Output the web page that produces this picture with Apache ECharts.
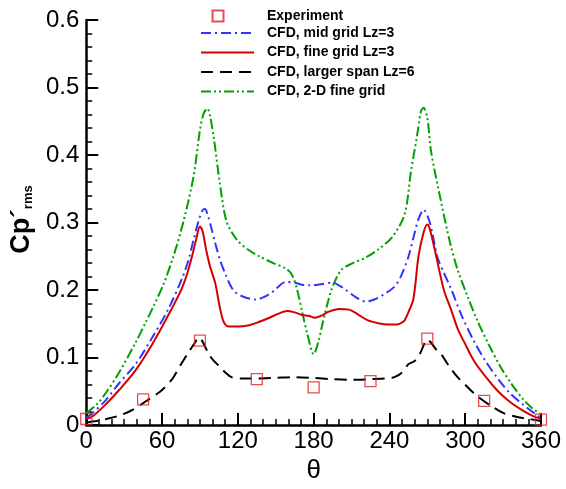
<!DOCTYPE html>
<html><head><meta charset="utf-8">
<script src="https://cdn.jsdelivr.net/npm/echarts@6/dist/echarts.min.js"></script>
<style>html,body{margin:0;padding:0;background:#fff}#c{width:566px;height:489px}</style>
</head><body><div id="c"></div>
<script>
const xTicks = [0, 60, 120, 180, 240, 300, 360];
const yTicks = [0, 0.1, 0.2, 0.3, 0.4, 0.5, 0.6];

const thetaExp = [0, 45, 90, 135, 180, 225, 270, 315, 360];
const experiment = [0.009, 0.038, 0.125, 0.068, 0.056, 0.065, 0.128, 0.036, 0.008];

const thetaMid = [0,5,15,26,39,52,65,76,81,85,89,92,94,96,99,102,106,111,116,122,134,141,148,158,165,171,177,187,195,200,205,213,221,228,236,244,249,255,260,263,267,272,278,283,289,297,307,316,325,335,346,353,360];
const midGrid = [0.011,0.018,0.036,0.062,0.090,0.129,0.172,0.218,0.245,0.275,0.303,0.318,0.320,0.312,0.292,0.270,0.244,0.220,0.201,0.192,0.186,0.190,0.198,0.212,0.211,0.208,0.207,0.209,0.211,0.207,0.201,0.190,0.183,0.186,0.194,0.205,0.220,0.249,0.285,0.305,0.319,0.300,0.249,0.226,0.201,0.163,0.124,0.095,0.071,0.048,0.030,0.020,0.011];

const thetaFine = [0,5,15,26,39,52,65,72,76,80,84,87,90,92,95,98,102,106,109,113,120,129,137,145,152,159,165,171,176,181,186,192,200,208,215,223,231,239,246,250,252,255,259,263,267,270,272,276,283,289,294,300,307,316,325,335,346,353,360];
const fineGrid = [0.009,0.013,0.030,0.052,0.081,0.119,0.163,0.188,0.204,0.225,0.252,0.275,0.294,0.288,0.259,0.235,0.211,0.172,0.152,0.146,0.146,0.148,0.153,0.159,0.165,0.169,0.167,0.163,0.162,0.159,0.162,0.168,0.172,0.171,0.164,0.155,0.151,0.149,0.149,0.152,0.155,0.167,0.187,0.250,0.285,0.297,0.290,0.259,0.201,0.170,0.143,0.120,0.095,0.072,0.052,0.035,0.021,0.014,0.009];

const thetaSpan = [0,8,16,26,36,47,55,60,68,75,81,86,89,92,97,101,105,110,115,124,135,150,165,179,195,210,225,237,244,250,255,260,264,268,270,273,277,281,287,294,302,310,320,330,341,351,360];
const largerSpan = [0.004,0.006,0.009,0.014,0.022,0.035,0.045,0.052,0.068,0.090,0.108,0.122,0.130,0.124,0.105,0.095,0.088,0.078,0.071,0.069,0.069,0.070,0.071,0.070,0.068,0.067,0.068,0.069,0.071,0.078,0.090,0.095,0.105,0.122,0.127,0.122,0.112,0.105,0.088,0.071,0.056,0.042,0.029,0.018,0.012,0.009,0.006];

const theta2D = [0,8,16,26,39,47,53,61,69,77,85,90,93,96,98,101,106,111,119,128,137,148,158,163,167,171,175,180,184,187,191,195,202,211,221,231,242,252,257,262,265,267,270,273,281,288,294,302,310,319,328,337,346,353,360];
const fine2D = [0.018,0.030,0.049,0.078,0.122,0.152,0.175,0.208,0.250,0.302,0.369,0.437,0.462,0.469,0.458,0.425,0.355,0.302,0.275,0.260,0.250,0.240,0.232,0.222,0.200,0.167,0.135,0.105,0.125,0.150,0.180,0.205,0.230,0.240,0.248,0.260,0.278,0.312,0.375,0.430,0.465,0.470,0.455,0.405,0.330,0.270,0.230,0.190,0.153,0.118,0.086,0.060,0.038,0.025,0.016];

const names = ['Experiment','CFD, mid grid Lz=3','CFD, fine grid Lz=3','CFD, larger span Lz=6','CFD, 2-D fine grid'];

function pairs(xs, ys){ return xs.map((x,i)=>[x, ys[i]]); }

const FONT = '"Liberation Sans", Arial, sans-serif';
const chart = echarts.init(document.getElementById('c'), null, {renderer:'canvas'});

function lineSeries(name, xs, ys, color, dash, z){
  return {
    name, type:'line', data: pairs(xs, ys), smooth: 0.3, showSymbol:false, symbol:'none',
    lineStyle:{color, width:2, type: dash, cap:'butt'}, itemStyle:{color}, z, animation:false
  };
}

chart.setOption({
  animation:false,
  textStyle:{fontFamily:FONT},
  grid:{left:82, right:25, top:20, bottom:53, containLabel:false},
  legend:[{
    data:[names[0]], orient:'vertical', left:206.5, top:4, itemWidth:11, itemHeight:11, itemGap:5,
    textStyle:{fontFamily:FONT, fontSize:14, fontWeight:'bold', color:'#000', padding:[0,0,0,38.5]}
  },{
    data:names.slice(1), orient:'vertical', left:195, top:21, itemWidth:53, itemHeight:14, itemGap:5.5,
    itemStyle:{opacity:0}, lineStyle:{opacity:1},
    textStyle:{fontFamily:FONT, fontSize:14, fontWeight:'bold', color:'#000', padding:[0,0,0,8]}
  }],
  xAxis:{
    type:'value', min:xTicks[0], max:xTicks[xTicks.length-1], interval:60,
    name:'θ', nameLocation:'middle', nameGap:20,
    nameTextStyle:{fontFamily:FONT, fontSize:26, color:'#000', verticalAlign:'top'},
    axisLine:{lineStyle:{color:'#000', width:2.5}},
    axisTick:{inside:true, length:12, lineStyle:{color:'#000', width:2}},
    minorTick:{show:true, splitNumber:6, length:6, lineStyle:{color:'#000', width:1.5}},
    axisLabel:{fontFamily:FONT, fontSize:24, color:'#000', margin:4},
    splitLine:{show:false}
  },
  yAxis:{
    type:'value', min:yTicks[0], max:yTicks[yTicks.length-1], interval:0.1,
    name:'{a|Cp}{b|´}{c|rms}', nameLocation:'middle', nameRotate:90, nameGap:46,
    nameTextStyle:{
      padding:[0,0,0,6],
      rich:{
        a:{fontFamily:FONT, fontSize:27, fontWeight:'bold', color:'#000'},
        b:{fontFamily:FONT, fontSize:26, fontWeight:'bold', color:'#000'},
        c:{fontFamily:FONT, fontSize:13, fontWeight:'bold', color:'#000', verticalAlign:'bottom', padding:[12,0,0,0]}
      }
    },
    axisLine:{show:true, lineStyle:{color:'#000', width:2.5}},
    axisTick:{show:true, inside:true, length:12, lineStyle:{color:'#000', width:2}},
    minorTick:{show:true, splitNumber:5, length:6, lineStyle:{color:'#000', width:1.5}},
    axisLabel:{fontFamily:FONT, fontSize:24, color:'#000', margin:7,
      formatter:v=> v===0 ? '0' : v.toFixed(1)},
    splitLine:{show:false}
  },
  series:[
    lineSeries(names[1], thetaMid, midGrid, '#3333ff', [10,4,2,4], 3),
    lineSeries(names[2], thetaFine, fineGrid, '#d40000', 'solid', 4),
    lineSeries(names[3], thetaSpan, largerSpan, '#000000', [12,7], 5),
    lineSeries(names[4], theta2D, fine2D, '#00a000', [10,3,2,3,2,3], 2),
    {
      name:names[0], type:'scatter', data:pairs(thetaExp, experiment),
      symbol:'rect', symbolSize:11, z:10,
      itemStyle:{color:'rgba(255,255,255,0)', borderColor:'#dd2222', borderWidth:1.3}
    }
  ]
});
</script>
</body></html>
